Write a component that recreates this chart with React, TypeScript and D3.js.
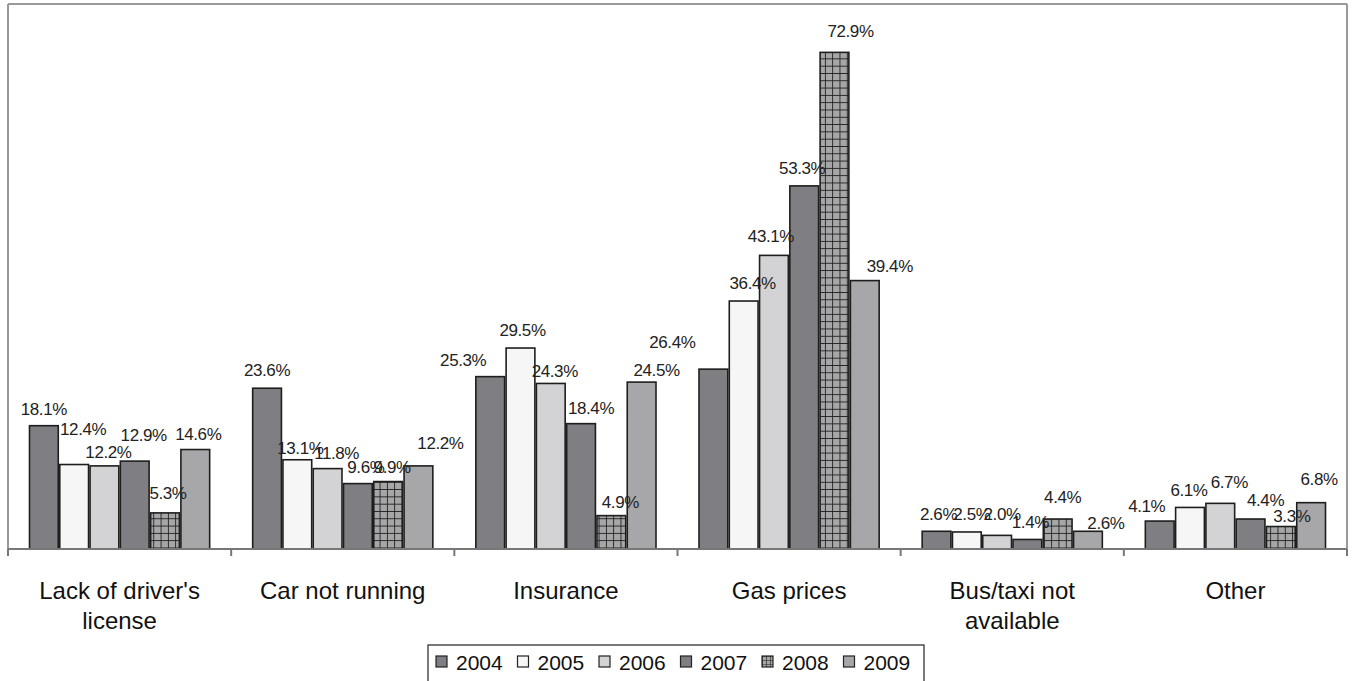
import React from "react";
import * as d3 from "d3";

const categories = [
  "Lack of driver's license",
  "Car not running",
  "Insurance",
  "Gas prices",
  "Bus/taxi not available",
  "Other",
];
const years = ["2004", "2005", "2006", "2007", "2008", "2009"];
const v2004 = [18.1, 23.6, 25.3, 26.4, 2.6, 4.1];
const v2005 = [12.4, 13.1, 29.5, 36.4, 2.5, 6.1];
const v2006 = [12.2, 11.8, 24.3, 43.1, 2.0, 6.7];
const v2007 = [12.9, 9.6, 18.4, 53.3, 1.4, 4.4];
const v2008 = [5.3, 9.9, 4.9, 72.9, 4.4, 3.3];
const v2009 = [14.6, 12.2, 24.5, 39.4, 2.6, 6.8];
const seriesValues = [v2004, v2005, v2006, v2007, v2008, v2009];

// layout: manual label nudges [dx, dy] per category (rows) per year (cols)
const labelNudge: [number, number][][] = [
  [[0, -5], [9, -24], [4, -2], [9, -14], [3, -8], [3, -4]],
  [[0, -6], [3, 0], [9, -4], [8, -5], [4, -3], [22, -11]],
  [[-27, -5], [2, -6], [4, 0], [10, -4], [9, -2], [15, 0]],
  [[-41, -15], [9, -6], [-3, -7], [-2, -6], [16, -9], [25, -3]],
  [[2, -5], [5, -6], [5, -9], [3, -5], [5, -10], [18, 4]],
  [[-13, -3], [-1, -5], [9, -9], [15, -7], [11, 1], [8, -12]],
];

const fills = ["#7f7f83", "#f6f6f6", "#d3d3d5", "#7f7f83", "url(#grid)", "#a7a7aa"];
const legendFills = ["#7f7f83", "#f6f6f6", "#d3d3d5", "#7f7f83", "url(#gridS)", "#a7a7aa"];

const W = 1353;
const H = 681;
const left = 8;
const right = 1347;
const top = 4;
const bottom = 549;
const FONT = "'Liberation Sans', Arial, sans-serif";

function wrap(s: string, maxChars = 16): string[] {
  if (s.length <= maxChars) return [s];
  const idx = s.lastIndexOf(" ", maxChars);
  return [s.slice(0, idx), s.slice(idx + 1)];
}

export default function App() {
  const x0 = d3.scaleBand<string>().domain(categories).range([left, right]).padding(0);
  const bw = x0.bandwidth();
  const x1 = d3.scaleBand<string>().domain(years).range([21.5, bw - 21.5]).paddingInner(0.05);
  const y = d3.scaleLinear().domain([0, 80]).range([bottom, top]);

  const bars: React.ReactNode[] = [];
  const labels: React.ReactNode[] = [];
  categories.forEach((c, ci) => {
    years.forEach((yr, si) => {
      const v = seriesValues[si][ci];
      const bx = (x0(c) as number) + (x1(yr) as number);
      const by = y(v);
      bars.push(
        <rect
          key={`b-${ci}-${si}`}
          x={bx}
          y={by}
          width={x1.bandwidth()}
          height={bottom - by}
          fill={fills[si]}
          stroke="#1e1e1e"
          strokeWidth={1.6}
        />
      );
      const [dx, dy] = labelNudge[ci][si];
      labels.push(
        <text
          key={`l-${ci}-${si}`}
          x={bx + x1.bandwidth() / 2 + dx}
          y={by - 6 + dy}
          textAnchor="middle"
          fontSize={17}
          letterSpacing={-0.4}
          fill="#222"
        >
          {v.toFixed(1)}%
        </text>
      );
    });
  });

  const ticks = d3.range(categories.length + 1).map((i) => left + i * bw);

  const legendX = 428;
  const legendY = 645;
  const itemStep = 81.5;

  return (
    <svg
      width={W}
      height={H}
      style={{ position: "absolute", left: 0, top: 0, background: "#fff" }}
      fontFamily={FONT}
    >
      <defs>
        <pattern id="grid" width={7.3} height={7.3} patternUnits="userSpaceOnUse">
          <rect width={7.3} height={7.3} fill="#a6a6a6" />
          <path d="M0,0H7.3M0,0V7.3" stroke="#222" strokeWidth={1.8} />
        </pattern>
        <pattern id="gridS" width={4} height={4} patternUnits="userSpaceOnUse" x={0} y={0}>
          <rect width={4} height={4} fill="#a6a6a6" />
          <path d="M0,0H4M0,0V4" stroke="#222" strokeWidth={1.2} />
        </pattern>
      </defs>
      {/* plot frame */}
      <line x1={left} x2={right} y1={top} y2={top} stroke="#999" strokeWidth={2} />
      <line x1={left} x2={left} y1={top} y2={bottom + 7} stroke="#999" strokeWidth={2} />
      <line x1={right} x2={right} y1={top} y2={bottom + 7} stroke="#999" strokeWidth={2} />
      {bars}
      <line x1={left} x2={right} y1={bottom} y2={bottom} stroke="#777" strokeWidth={2} />
      {ticks.map((t, i) => (
        <line key={`t${i}`} x1={t} x2={t} y1={bottom} y2={bottom + 7} stroke="#777" strokeWidth={2} />
      ))}
      {labels}
      {categories.map((c, ci) => {
        const lines = wrap(c);
        const cx = (x0(c) as number) + bw / 2;
        return (
          <text key={`c${ci}`} x={cx} y={599} textAnchor="middle" fontSize={24} fill="#111">
            {lines.map((ln, li) => (
              <tspan key={li} x={cx} dy={li === 0 ? 0 : 30}>
                {ln}
              </tspan>
            ))}
          </text>
        );
      })}
      {/* legend */}
      <rect x={legendX} y={legendY} width={496} height={42} fill="#fff" stroke="#222" strokeWidth={1.2} />
      {years.map((yr, i) => (
        <g key={`lg${i}`} transform={`translate(${legendX + 8 + i * itemStep},0)`}>
          <rect x={0} y={656} width={11} height={11} fill={legendFills[i]} stroke="#222" strokeWidth={1.2} />
          <text x={20} y={670} fontSize={21} fill="#111">
            {yr}
          </text>
        </g>
      ))}
    </svg>
  );
}
